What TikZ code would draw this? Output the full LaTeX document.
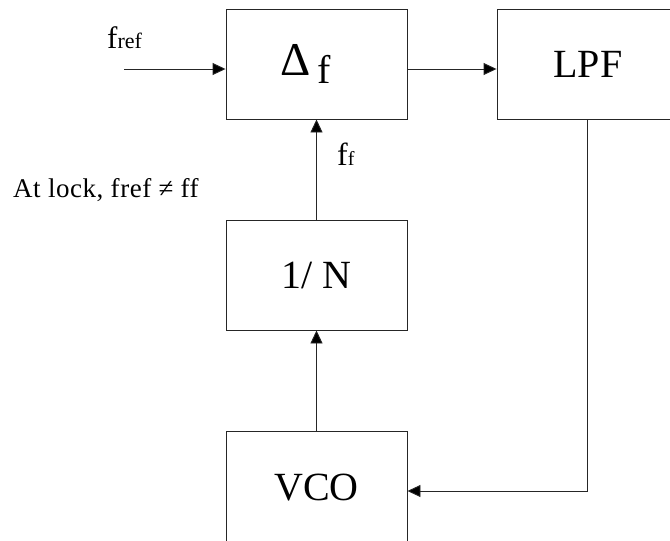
\documentclass[tikz,border=0pt]{standalone}
\usepackage{fontspec}
\setmainfont{Liberation Serif}
\usetikzlibrary{arrows.meta}
\tikzset{
  block/.style={draw=black!85, line width=0.9pt, minimum width=181pt, minimum height=110pt, inner sep=0pt, font=\fontsize{40}{40}\selectfont},
  sig/.style={draw=black!85, line width=0.9pt, -{Triangle[length=13pt,width=12pt,fill=black]}}
}
\begin{document}
\begin{tikzpicture}[x=1pt, y=-1pt]
  \useasboundingbox (0,0) rectangle (670,541);

  % blocks
  \node[block] (delta) at (316.5,64) {{\fontsize{47}{47}\selectfont Δ}\,\raisebox{-8pt}{\fontsize{40}{40}\selectfont f}\hspace*{22pt}};
  \node[block, minimum width=182pt] (lpf) at (588,64) {LPF};
  \node[block] (divn) at (316.5,275) {1/ N};
  \node[block, minimum height=114pt] (vco) at (316.5,488) {VCO};

  % input
  \coordinate (in) at (124,69);
  \coordinate (bend) at (587,491);

  % connectors
  \draw[sig] (in) -- ([yshift=-5pt]delta.west);
  \draw[sig] ([yshift=-5pt]delta.east) -- ([yshift=-5pt]lpf.west);
  \draw[sig] (vco.north) -- (divn.south);
  \draw[sig] (divn.north) -- (delta.south);
  \draw[sig] (lpf.south -| bend) -- (bend) -- (bend -| vco.east);

  % labels
  \node[anchor=base west, inner sep=0pt, font=\fontsize{31}{31}\selectfont] (fref) at (107,48) {f\fontsize{22}{22}\selectfont ref};
  \node[anchor=base west, inner sep=0pt, font=\fontsize{32}{32}\selectfont] (ff) at (337,165) {f\fontsize{20}{20}\selectfont f};
  \node[anchor=base west, inner sep=0pt, font=\fontsize{27}{27}\selectfont\addfontfeature{LetterSpace=2}] (lock) at (13,197) {At lock, fref ≠ ff};
\end{tikzpicture}
\end{document}
